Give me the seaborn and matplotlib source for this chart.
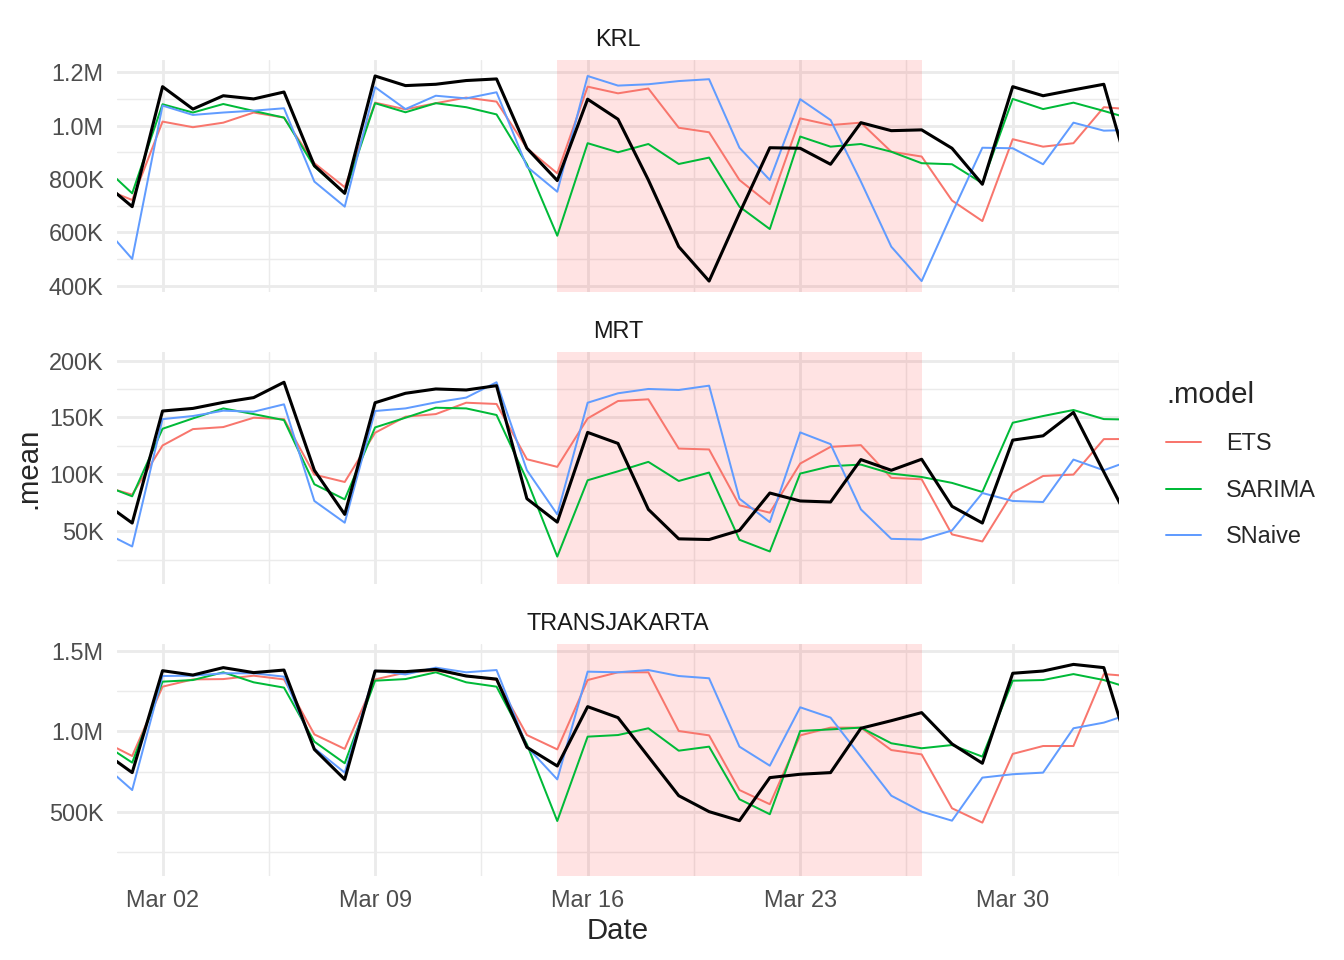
import pandas as pd
import matplotlib
matplotlib.use("Agg")
import matplotlib.pyplot as plt
import matplotlib.dates as mdates
import seaborn as sns
from matplotlib.ticker import FixedLocator, FuncFormatter

# ---------------- DATA (thousands of passengers) ----------------
dates = pd.date_range("2024-02-29", "2024-04-03", freq="D")
series_names = ["KRL", "MRT", "TRANSJAKARTA"]
model_names = ["ETS", "SARIMA", "SNaive"]

krl_actual = [792, 696, 1146, 1062, 1112, 1100, 1126, 850, 746, 1186, 1150, 1155, 1169, 1175, 915, 794,
              1099, 1024, 796, 546, 417, 671, 917, 915, 855, 1011, 981, 984, 915, 780, 1146, 1112, 1134, 1155, 757]
krl_ets = [767, 721, 1015, 994, 1011, 1049, 1030, 859, 769, 1086, 1061, 1084, 1105, 1090, 915, 821,
           1146, 1121, 1139, 992, 975, 796, 705, 1027, 1002, 1011, 902, 884, 719, 642, 949, 921, 934, 1069, 1060]
krl_sarima = [852, 746, 1080, 1049, 1081, 1055, 1030, 846, 746, 1084, 1050, 1084, 1069, 1042, 855, 587,
              934, 900, 931, 856, 880, 696, 612, 959, 921, 931, 902, 859, 855, 784, 1100, 1062, 1086, 1055, 1022]
krl_snaive = [630, 500, 1075, 1040, 1049, 1056, 1065, 790, 696, 1144, 1062, 1112, 1102, 1125, 846, 752,
              1186, 1150, 1155, 1167, 1174, 917, 796, 1099, 1021, 790, 546, 417, 671, 917, 915, 855, 1011, 981, 984]

mrt_actual = [76.5, 57.1, 155.6, 157.9, 163.2, 167.4, 180.9, 103.5, 64.7, 162.9, 171.2, 175.0, 174.1, 177.9, 78.5, 57.9,
              136.8, 127.1, 69.1, 43.2, 42.6, 50.6, 83.5, 76.5, 75.6, 112.9, 103.5, 113.2, 71.8, 57.1, 130.0, 133.8,
              154.4, 102.0, 50.0]
mrt_ets = [89.7, 82.1, 125.3, 139.7, 141.5, 149.7, 148.5, 99.7, 93.2, 136.5, 150.6, 152.9, 162.9, 161.8, 113.2, 106.5,
           149.1, 164.4, 165.9, 122.6, 121.8, 72.7, 66.2, 109.4, 124.1, 125.6, 96.8, 95.6, 47.1, 40.9, 83.8, 98.5,
           99.7, 130.9, 131.0]
mrt_sarima = [91.0, 80.6, 140.0, 149.1, 157.9, 152.9, 147.6, 91.2, 77.9, 141.2, 149.7, 158.5, 157.9, 152.1, 95.0, 27.6,
              94.7, 102.6, 110.9, 94.1, 101.5, 42.4, 32.1, 100.6, 107.1, 108.5, 100.6, 97.6, 92.4, 84.4, 145.3, 151.2,
              156.5, 148.5, 148.0]
mrt_snaive = [50.0, 36.5, 148.5, 151.2, 155.9, 155.0, 161.5, 76.5, 57.4, 155.6, 157.9, 163.2, 167.4, 180.9, 103.5, 64.7,
              162.9, 171.2, 175.0, 174.1, 177.9, 78.5, 57.9, 136.8, 126.5, 69.1, 43.2, 42.6, 50.6, 83.5, 76.5, 75.6,
              112.9, 103.5, 113.2]

tj_actual = [880, 744, 1376, 1349, 1395, 1364, 1380, 888, 702, 1374, 1370, 1384, 1343, 1324, 901, 785,
             1153, 1085, 843, 601, 502, 446, 713, 734, 744, 1019, 1066, 1116, 922, 802, 1360, 1374, 1415, 1395, 783]
tj_ets = [943, 847, 1277, 1322, 1324, 1345, 1322, 981, 891, 1322, 1364, 1376, 1345, 1318, 977, 888,
          1318, 1366, 1366, 1002, 975, 636, 548, 975, 1023, 1023, 884, 857, 523, 434, 860, 909, 909, 1355, 1340]
tj_sarima = [930, 806, 1308, 1318, 1366, 1304, 1271, 936, 802, 1314, 1324, 1366, 1304, 1277, 920, 444,
             967, 977, 1019, 880, 905, 579, 486, 1002, 1012, 1023, 926, 895, 915, 843, 1314, 1318, 1355, 1318, 1260]
tj_snaive = [802, 636, 1343, 1345, 1360, 1360, 1339, 895, 744, 1376, 1353, 1395, 1366, 1380, 905, 702,
             1370, 1366, 1380, 1343, 1329, 905, 787, 1149, 1085, 843, 601, 502, 446, 713, 734, 744, 1019, 1054, 1116]

shade_start = pd.Timestamp("2024-03-15")
shade_end = pd.Timestamp("2024-03-27")

# ---------------- TABLES ----------------
actuals = {"KRL": krl_actual, "MRT": mrt_actual, "TRANSJAKARTA": tj_actual}
forecasts = {
    "KRL": {"ETS": krl_ets, "SARIMA": krl_sarima, "SNaive": krl_snaive},
    "MRT": {"ETS": mrt_ets, "SARIMA": mrt_sarima, "SNaive": mrt_snaive},
    "TRANSJAKARTA": {"ETS": tj_ets, "SARIMA": tj_sarima, "SNaive": tj_snaive},
}

rows = []
for s in series_names:
    for m in model_names:
        for d, v in zip(dates, forecasts[s][m]):
            rows.append({"series": s, ".model": m, "date": d, ".mean": v * 1000})
fc_df = pd.DataFrame(rows)
act_df = pd.DataFrame([{"series": s, "date": d, "value": v * 1000}
                       for s in series_names for d, v in zip(dates, actuals[s])])

# ---------------- STYLE ----------------
sns.set_theme(style="white")
plt.rcParams["font.family"] = ["Liberation Sans", "DejaVu Sans"]
palette = {"ETS": "#F8766D", "SARIMA": "#00BA38", "SNaive": "#619CFF"}
grid_col = "#EBEBEB"

W, H = 1344, 960
fig = plt.figure(figsize=(7, 5), dpi=192)

panel_px = {"KRL": (60, 292), "MRT": (352, 584), "TRANSJAKARTA": (644, 876)}
ylims = {"KRL": (376e3, 1246e3), "MRT": (3.5e3, 207.5e3), "TRANSJAKARTA": (103e3, 1541.5e3)}
ymajor = {"KRL": [400e3, 600e3, 800e3, 1000e3, 1200e3],
          "MRT": [50e3, 100e3, 150e3, 200e3],
          "TRANSJAKARTA": [500e3, 1000e3, 1500e3]}
yminor = {"KRL": [500e3, 700e3, 900e3, 1100e3],
          "MRT": [25e3, 75e3, 125e3, 175e3],
          "TRANSJAKARTA": [250e3, 750e3, 1250e3]}

xmin = pd.Timestamp("2024-02-29 12:00")
xmax = pd.Timestamp("2024-04-02 12:00")
xmajor = pd.to_datetime(["2024-03-02", "2024-03-09", "2024-03-16", "2024-03-23", "2024-03-30"])
xminor = xmajor + pd.Timedelta(hours=84)


def fmt_short(v, pos):
    if abs(v) >= 1e6:
        return f"{v / 1e6:.1f}M"
    return f"{v / 1e3:.0f}K"


handles, labels = None, None
for i, s in enumerate(series_names):
    top, bot = panel_px[s]
    ax = fig.add_axes([117 / W, 1 - bot / H, 1002 / W, (bot - top) / H])
    ax.axvspan(shade_start, shade_end, color="red", alpha=0.11, lw=0, zorder=1)
    sns.lineplot(data=fc_df[fc_df["series"] == s], x="date", y=".mean", hue=".model",
                 hue_order=model_names, palette=palette, linewidth=0.75, ax=ax, zorder=3)
    sns.lineplot(data=act_df[act_df["series"] == s], x="date", y="value", color="black",
                 linewidth=1.15, ax=ax, zorder=4)
    if i == 0:
        handles, labels = ax.get_legend_handles_labels()
    ax.get_legend().remove()

    ax.set_xlim(xmin, xmax)
    ax.set_ylim(*ylims[s])
    ax.xaxis.set_major_locator(FixedLocator(mdates.date2num(xmajor)))
    ax.xaxis.set_minor_locator(FixedLocator(mdates.date2num(xminor)))
    ax.xaxis.set_major_formatter(mdates.DateFormatter("%b %d"))
    ax.yaxis.set_major_locator(FixedLocator(ymajor[s]))
    ax.yaxis.set_minor_locator(FixedLocator(yminor[s]))
    ax.yaxis.set_major_formatter(FuncFormatter(fmt_short))
    ax.grid(which="major", color=grid_col, linewidth=1.07, zorder=0)
    ax.grid(which="minor", color=grid_col, linewidth=0.53, zorder=0)
    ax.set_axisbelow(True)
    for sp in ax.spines.values():
        sp.set_visible(False)
    ax.tick_params(which="both", length=0, labelsize=8.8, labelcolor="#4D4D4D", pad=5)
    ax.set_xlabel("")
    ax.set_ylabel("")
    if i < 2:
        ax.tick_params(labelbottom=False)
    fig.text(618 / W, 1 - (top - 21) / H, s, ha="center", va="center", fontsize=8.8, color="#1A1A1A")

fig.text(618 / W, 1 - 931 / H, "Date", ha="center", va="center", fontsize=11)
fig.text(28 / W, 1 - 468 / H, ".mean", ha="center", va="center", fontsize=11, rotation=90)

leg = fig.legend(handles, labels, title=".model", loc="upper left",
                 bbox_to_anchor=(1166 / W, 1 - 381 / H), frameon=False,
                 fontsize=8.8, title_fontsize=11, handlelength=1.5, handletextpad=1.05,
                 labelspacing=1.0, borderpad=0, borderaxespad=0, alignment="left")
for h in leg.legend_handles:
    h.set_linewidth(0.75)

fig.savefig("out.png", dpi=192)
